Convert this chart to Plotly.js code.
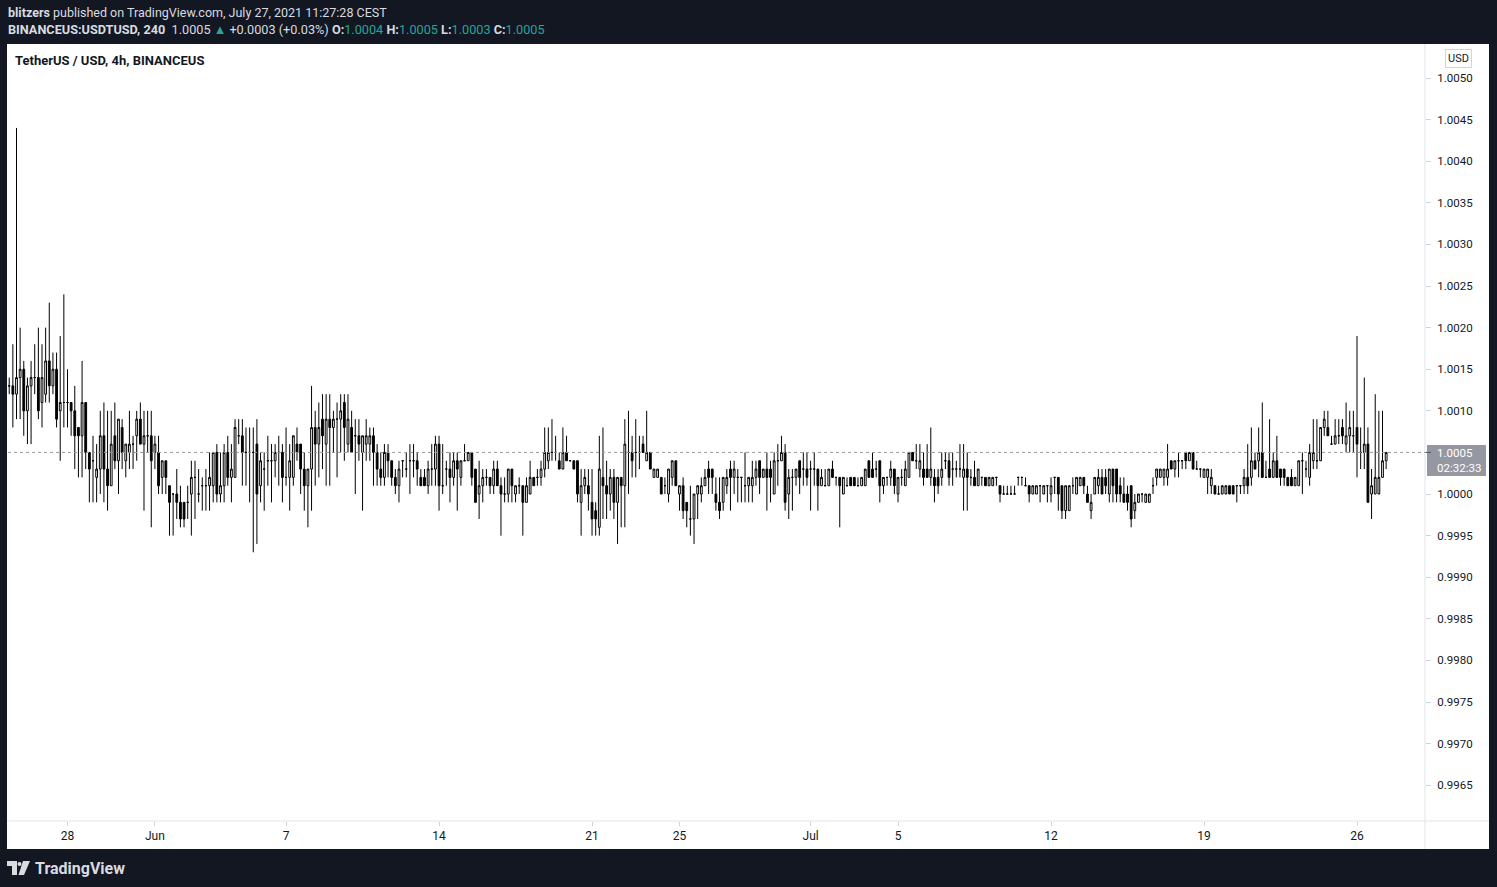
<!DOCTYPE html>
<html>
<head>
<meta charset="utf-8">
<script src="https://cdn.plot.ly/plotly-3.0.1.min.js"></script>
<style>
html,body{margin:0;padding:0;background:#131722;overflow:hidden}
#chart{width:1497px;height:887px}
</style>
</head>
<body>
<div id="chart"></div>
<script>
// ---- data (prices stored as pips relative to 1.0000, 1 pip = 0.0001) ----
const lastBarTime = Date.UTC(2021, 6, 27, 8, 0); // last 4h bar: Jul 27 08:00
const barHours = 4;
const basePrice = 1.0;
const pipSize = 0.0001;

const openPips = [
13,13,12,14,15,10,13,14,14,11,
12,16,13,15,10,11,11,11,10,8,
7,11,5,4,2,3,7,3,1,7,
4,8,4,5,6,7,9,6,7,7,
5,5,2,4,1,0,0,-1,-1,-1,
0,2,0,1,1,1,1,5,0,1,
5,2,2,7,7,5,5,5,6,1,
3,4,4,4,5,5,2,2,2,6,
6,3,1,3,8,6,9,6,9,8,
9,9,11,6,8,7,7,5,6,6,
7,5,3,2,5,4,2,1,4,3,
4,4,4,2,2,1,3,3,6,1,
3,3,2,4,2,4,4,5,3,0,
1,2,2,1,3,1,0,0,3,0,
1,1,-1,0,2,2,2,3,4,5,
5,4,3,5,4,4,4,-1,1,1,
-1,-2,-4,2,1,0,2,-1,2,1,
5,5,5,5,6,4,5,2,2,2,
1,0,2,4,0,1,-1,-3,-3,0,
0,1,3,3,0,-1,-1,1,3,2,
2,2,1,1,1,2,4,2,3,3,
0,4,4,5,0,2,2,4,3,3,
3,3,3,1,1,1,3,2,2,0,
1,2,2,1,1,1,4,3,3,4,
1,2,2,3,0,2,1,2,5,4,
3,3,3,2,2,2,2,4,4,3,
3,3,2,3,2,2,1,2,2,1,
1,2,1,0,0,0,0,2,2,1,
1,0,0,1,0,1,0,2,2,1,
-2,-2,1,0,1,2,0,-2,0,1,
2,2,0,3,3,1,0,0,1,-2,
-1,0,-1,-1,1,2,2,2,2,4,
3,4,4,5,4,5,3,3,2,2,
1,1,0,0,0,1,1,1,1,1,
2,2,4,4,5,2,3,2,4,3,
3,2,2,1,1,4,3,2,4,4,
4,8,8,6,6,7,8,6,7,7,
8,5,5,6,0,0,0,2,4];

const highPips = [
14,18,44,20,16,14,16,18,20,18,
20,23,17,17,19,24,15,11,13,8,
16,11,5,7,6,10,11,10,10,11,
9,9,6,10,7,10,11,10,10,10,
7,7,4,4,1,0,3,1,-1,1,
4,4,3,2,3,5,5,6,5,6,
7,6,9,9,9,8,8,8,9,5,
5,7,6,6,7,6,8,6,7,8,
6,5,3,13,10,11,12,12,12,10,
11,12,12,12,10,9,9,7,9,8,
8,6,5,6,6,4,3,4,4,5,
6,6,5,3,3,4,6,7,7,6,
4,5,5,5,4,6,5,5,3,4,
3,3,2,4,4,2,2,3,3,1,
2,1,2,4,2,3,4,8,8,9,
7,5,8,7,4,4,4,3,3,3,
3,-1,7,8,4,3,3,2,2,9,
10,7,9,7,7,10,5,3,3,2,
2,3,4,4,1,2,-1,1,0,1,
2,3,4,3,2,2,2,3,4,4,
3,2,5,2,4,4,4,3,5,4,
5,6,7,6,3,3,3,4,5,5,
4,5,3,3,3,3,4,2,2,2,
2,2,2,2,2,3,4,5,4,4,
2,2,4,3,2,3,4,5,5,6,
6,5,6,8,3,3,5,5,5,5,
4,6,6,5,3,4,3,2,2,2,
2,2,1,1,1,1,1,2,2,2,
1,1,1,1,1,1,2,2,2,1,
1,1,2,2,2,2,1,0,2,3,
3,3,3,3,3,2,2,1,1,0,
0,0,0,0,2,3,3,3,6,4,
4,5,4,5,5,5,4,3,3,3,
3,1,1,1,1,1,1,1,1,3,
6,8,5,8,11,4,9,5,7,3,
3,2,3,2,4,5,4,6,9,9,
8,10,10,7,9,9,9,11,10,10,
19,8,14,8,3,12,10,10,5];

const lowPips = [
12,8,9,9,7,6,6,12,9,8,
11,11,12,8,4,8,8,7,3,2,
2,3,-1,-1,-1,0,-1,-2,1,3,
0,3,2,3,3,4,6,-2,5,-4,
3,0,0,0,-5,-5,-3,-4,-4,-3,
-5,-3,-1,-2,-2,-2,-1,-1,-1,-1,
1,-1,2,6,1,1,-1,-7,-6,-1,
-2,1,-1,2,1,-1,1,-2,1,4,
0,-2,-4,-2,1,2,3,1,1,5,
2,5,4,5,5,0,4,-2,4,4,
1,1,1,1,2,1,0,-1,2,2,
0,2,1,1,1,0,1,1,-2,0,
1,-1,1,-2,1,4,4,1,-1,-3,
-1,1,0,0,1,-5,-1,-1,-1,-1,
0,-5,-1,0,1,1,1,2,3,4,
4,3,3,4,4,3,-1,-5,0,-2,
-5,-5,-5,-3,-3,-2,-3,-6,-4,-4,
0,2,2,3,5,4,3,2,2,0,
0,-1,1,1,-2,-3,-4,-5,-6,-3,
-1,1,0,0,-2,-3,-2,0,-2,0,
-1,-1,-1,-1,-1,1,0,2,-2,-1,
0,1,4,-2,-3,-2,1,0,1,1,
-2,1,-2,1,1,1,2,1,-4,0,
1,1,1,1,1,1,2,2,2,-1,
0,1,1,0,-1,1,1,2,4,3,
2,1,2,1,-1,0,1,3,1,1,
2,2,-2,-2,1,1,1,1,1,1,
1,1,-1,0,0,0,0,1,1,1,
-1,0,0,-1,0,-1,-1,0,-2,-3,
-3,-2,0,0,1,0,-1,-3,0,0,
0,0,-1,-1,-1,-1,-1,-2,-4,-3,
-1,-1,-1,-1,0,1,2,1,1,3,
2,2,3,3,4,3,3,2,2,0,
0,0,0,0,0,0,0,-1,0,0,
0,1,3,2,2,2,2,2,2,1,
1,1,1,1,1,0,2,1,3,3,
4,7,7,6,6,6,6,5,5,5,
2,3,3,-1,-3,0,0,2,3];

const closePips = [
13,12,14,15,10,13,14,14,10,14,
16,13,15,9,11,11,11,10,7,7,
11,5,3,4,3,7,3,1,6,4,
9,5,6,6,6,9,6,7,7,4,
6,1,4,2,-1,0,-1,-3,-3,-1,
2,2,0,1,1,2,5,0,1,5,
2,3,8,7,5,5,5,5,0,4,
3,4,4,5,5,2,2,4,7,5,
3,1,3,8,6,8,7,9,8,9,
9,10,8,9,5,7,6,7,7,7,
5,3,2,5,4,2,1,3,4,3,
4,4,3,1,1,3,3,6,1,1,
3,2,4,3,4,4,5,2,-1,1,
2,2,1,3,1,0,0,3,1,1,
1,-1,1,2,1,2,3,5,5,5,
5,3,5,4,4,3,0,1,2,0,
-3,-3,3,1,0,2,-1,2,1,6,
5,4,5,5,5,5,3,3,3,0,
1,3,4,1,1,-2,-2,-3,0,1,
1,2,2,2,-1,-2,2,2,2,3,
2,2,1,2,2,3,2,3,2,2,
4,4,5,-1,2,2,3,2,3,2,
3,3,1,2,1,3,2,2,1,2,
1,1,1,1,2,3,2,2,3,1,
2,2,3,1,2,2,3,5,4,4,
4,2,2,3,1,1,3,4,2,3,
3,3,3,2,2,1,3,2,1,2,
2,2,0,0,0,0,0,2,2,1,
0,1,1,1,1,1,1,2,0,-2,
1,1,1,2,2,1,-1,-1,2,2,
0,1,3,1,0,0,-1,-1,-3,-1,
0,0,0,0,1,3,3,3,3,3,
4,4,4,4,5,3,3,3,3,3,
2,0,0,1,1,0,0,1,1,2,
1,4,3,5,2,2,2,4,2,2,
2,1,1,2,4,4,3,5,5,4,
8,9,7,6,7,7,7,7,8,7,
6,5,6,-1,1,2,2,4,5];

const lastPrice = 1.0005;
const lastPriceText = '1.0005';
const countdownText = '02:32:33';
const priceTicks = [0.9965,0.9970,0.9975,0.9980,0.9985,0.9990,0.9995,1.0000,1.0005,1.0010,1.0015,1.0020,1.0025,1.0030,1.0035,1.0040,1.0045,1.0050];
// the 1.0005 label is hidden behind the last-price marker in the reference
const priceTickText = ['0.9965','0.9970','0.9975','0.9980','0.9985','0.9990','0.9995','1.0000','','1.0010','1.0015','1.0020','1.0025','1.0030','1.0035','1.0040','1.0045','1.0050'];
const dateTicks = ['2021-05-28','2021-06-01','2021-06-07','2021-06-14','2021-06-21','2021-06-25','2021-07-01','2021-07-05','2021-07-12','2021-07-19','2021-07-26'];
const dateTickText = ['28','Jun','7','14','21','25','Jul','5','12','19','26'];

// ---- build ----
const n = closePips.length;
const toPrice = k => +(basePrice + k * pipSize).toFixed(4);
const fmt = ms => new Date(ms).toISOString().slice(0,16).replace('T',' ');
const times = [];
for (let i = 0; i < n; i++) times.push(fmt(lastBarTime - (n - 1 - i) * barHours * 3600e3));

const FONT = "Roboto, 'Liberation Sans', Arial, sans-serif";
const W = 1497, H = 887, PL = 8, PR = 1425, PT = 44, PB = 821;
const px = X => (X - PL) / (PR - PL);
const py = Y => (PB - Y) / (PB - PT);

const trace = {
  type: 'candlestick',
  x: times,
  open: openPips.map(toPrice),
  high: highPips.map(toPrice),
  low: lowPips.map(toPrice),
  close: closePips.map(toPrice),
  increasing: {line: {color: '#000000', width: 1}, fillcolor: '#ffffff'},
  decreasing: {line: {color: '#000000', width: 1}, fillcolor: '#000000'},
  whiskerwidth: 0,
  hoverinfo: 'skip',
  showlegend: false
};

function poly(pts) {
  return 'M' + pts.map(p => px(p[0]).toFixed(5) + ',' + py(p[1]).toFixed(5)).join(' L') + ' Z';
}

const teal = '#26a69a';
const light = '#d9dbe0';
const tl = s => '<span style="color:' + teal + '">' + s + '</span>';

const layout = {
  width: W, height: H,
  margin: {l: PL, r: W - PR, t: PT, b: H - PB, pad: 0},
  paper_bgcolor: '#131722',
  plot_bgcolor: '#ffffff',
  font: {family: FONT, size: 12, color: '#131722'},
  showlegend: false,
  xaxis: {
    type: 'date',
    range: ['2021-05-25 06:40', '2021-07-29 02:40'],
    tickvals: dateTicks, ticktext: dateTickText,
    showgrid: false, zeroline: false, showline: false,
    ticks: 'outside', ticklen: 4, tickcolor: '#d1d4dc',
    tickfont: {size: 12, color: '#131722', family: FONT},
    rangeslider: {visible: false},
    fixedrange: true
  },
  yaxis: {
    side: 'right',
    range: [0.99607, 1.005409],
    tickvals: priceTicks, ticktext: priceTickText,
    showgrid: false, zeroline: false, showline: false,
    ticks: 'outside', ticklen: 5, tickcolor: '#d1d4dc',
    ticklabelstandoff: 4,
    tickfont: {size: 11.5, color: '#131722', family: FONT},
    fixedrange: true
  },
  shapes: [
    {type: 'rect', xref: 'paper', yref: 'paper', x0: px(7), x1: px(1489), y0: py(849), y1: py(44),
     fillcolor: '#ffffff', line: {width: 0}, layer: 'below'},
    {type: 'line', xref: 'paper', yref: 'paper', x0: px(7), x1: px(1489), y0: 0, y1: 0,
     line: {color: '#e0e3eb', width: 1}},
    {type: 'line', xref: 'paper', yref: 'paper', x0: 1, x1: 1, y0: py(849), y1: py(44),
     line: {color: '#e0e3eb', width: 1}},
    {type: 'line', xref: 'paper', yref: 'y', x0: 0, x1: px(1427), y0: lastPrice, y1: lastPrice,
     line: {color: '#9598a1', width: 1, dash: 'dot'}},
    // last price marker
    {type: 'rect', xref: 'paper', yref: 'paper', x0: px(1427), x1: px(1486), y0: py(476), y1: py(445),
     fillcolor: '#9598a1', line: {width: 0}},
    {type: 'line', xref: 'paper', yref: 'y', x0: px(1426), x1: px(1431), y0: lastPrice, y1: lastPrice,
     line: {color: '#50535e', width: 1}},
    // TradingView logo
    {type: 'path', xref: 'paper', yref: 'paper', path: poly([[7,861],[17,861],[17,875],[12,875],[12,866],[7,866]]),
     fillcolor: light, line: {width: 0}},
    {type: 'circle', xref: 'paper', yref: 'paper', x0: px(17.5), x1: px(21.5), y0: py(866), y1: py(862),
     fillcolor: light, line: {width: 0}},
    {type: 'path', xref: 'paper', yref: 'paper', path: poly([[23,861],[30,861],[24,875],[18.5,875]]),
     fillcolor: light, line: {width: 0}}
  ],
  annotations: [
    {xref: 'paper', yref: 'paper', x: px(6), y: py(12), xanchor: 'left', yanchor: 'middle', showarrow: false,
     text: '<b>blitzers</b> published on TradingView.com, July 27, 2021 11:27:28 CEST',
     font: {family: FONT, size: 12.5, color: light}},
    {xref: 'paper', yref: 'paper', x: px(6), y: py(29), xanchor: 'left', yanchor: 'middle', showarrow: false,
     text: '<b>BINANCEUS:USDTUSD, 240</b>  1.0005 ' + tl('▲') + ' +0.0003 (+0.03%) ' +
           '<b>O:</b>' + tl('1.0004') + ' <b>H:</b>' + tl('1.0005') + ' ' +
           '<b>L:</b>' + tl('1.0003') + ' <b>C:</b>' + tl('1.0005'),
     font: {family: FONT, size: 12.7, color: light}},
    {xref: 'paper', yref: 'paper', x: px(13), y: py(60), xanchor: 'left', yanchor: 'middle', showarrow: false,
     text: '<b>TetherUS / USD, 4h, BINANCEUS</b>',
     font: {family: FONT, size: 13, color: '#131722'}},
    {xref: 'paper', yref: 'paper', x: px(1458.5), y: py(58.5), xanchor: 'center', yanchor: 'middle', showarrow: false,
     text: 'USD', bgcolor: '#ffffff', bordercolor: '#d1d4dc', borderwidth: 1, borderpad: 2,
     font: {family: FONT, size: 11, color: '#131722'}},
    {xref: 'paper', yref: 'paper', x: px(1435), y: py(460.5), xanchor: 'left', yanchor: 'middle', showarrow: false,
     text: lastPriceText + '<br>' + countdownText, align: 'left',
     font: {family: FONT, size: 11.5, color: '#ffffff'}},
    {xref: 'paper', yref: 'paper', x: px(33), y: py(868), xanchor: 'left', yanchor: 'middle', showarrow: false,
     text: '<b>TradingView</b>',
     font: {family: FONT, size: 16, color: light}}
  ]
};

Plotly.newPlot('chart', [trace], layout, {staticPlot: true, displayModeBar: false});
</script>
</body>
</html>
